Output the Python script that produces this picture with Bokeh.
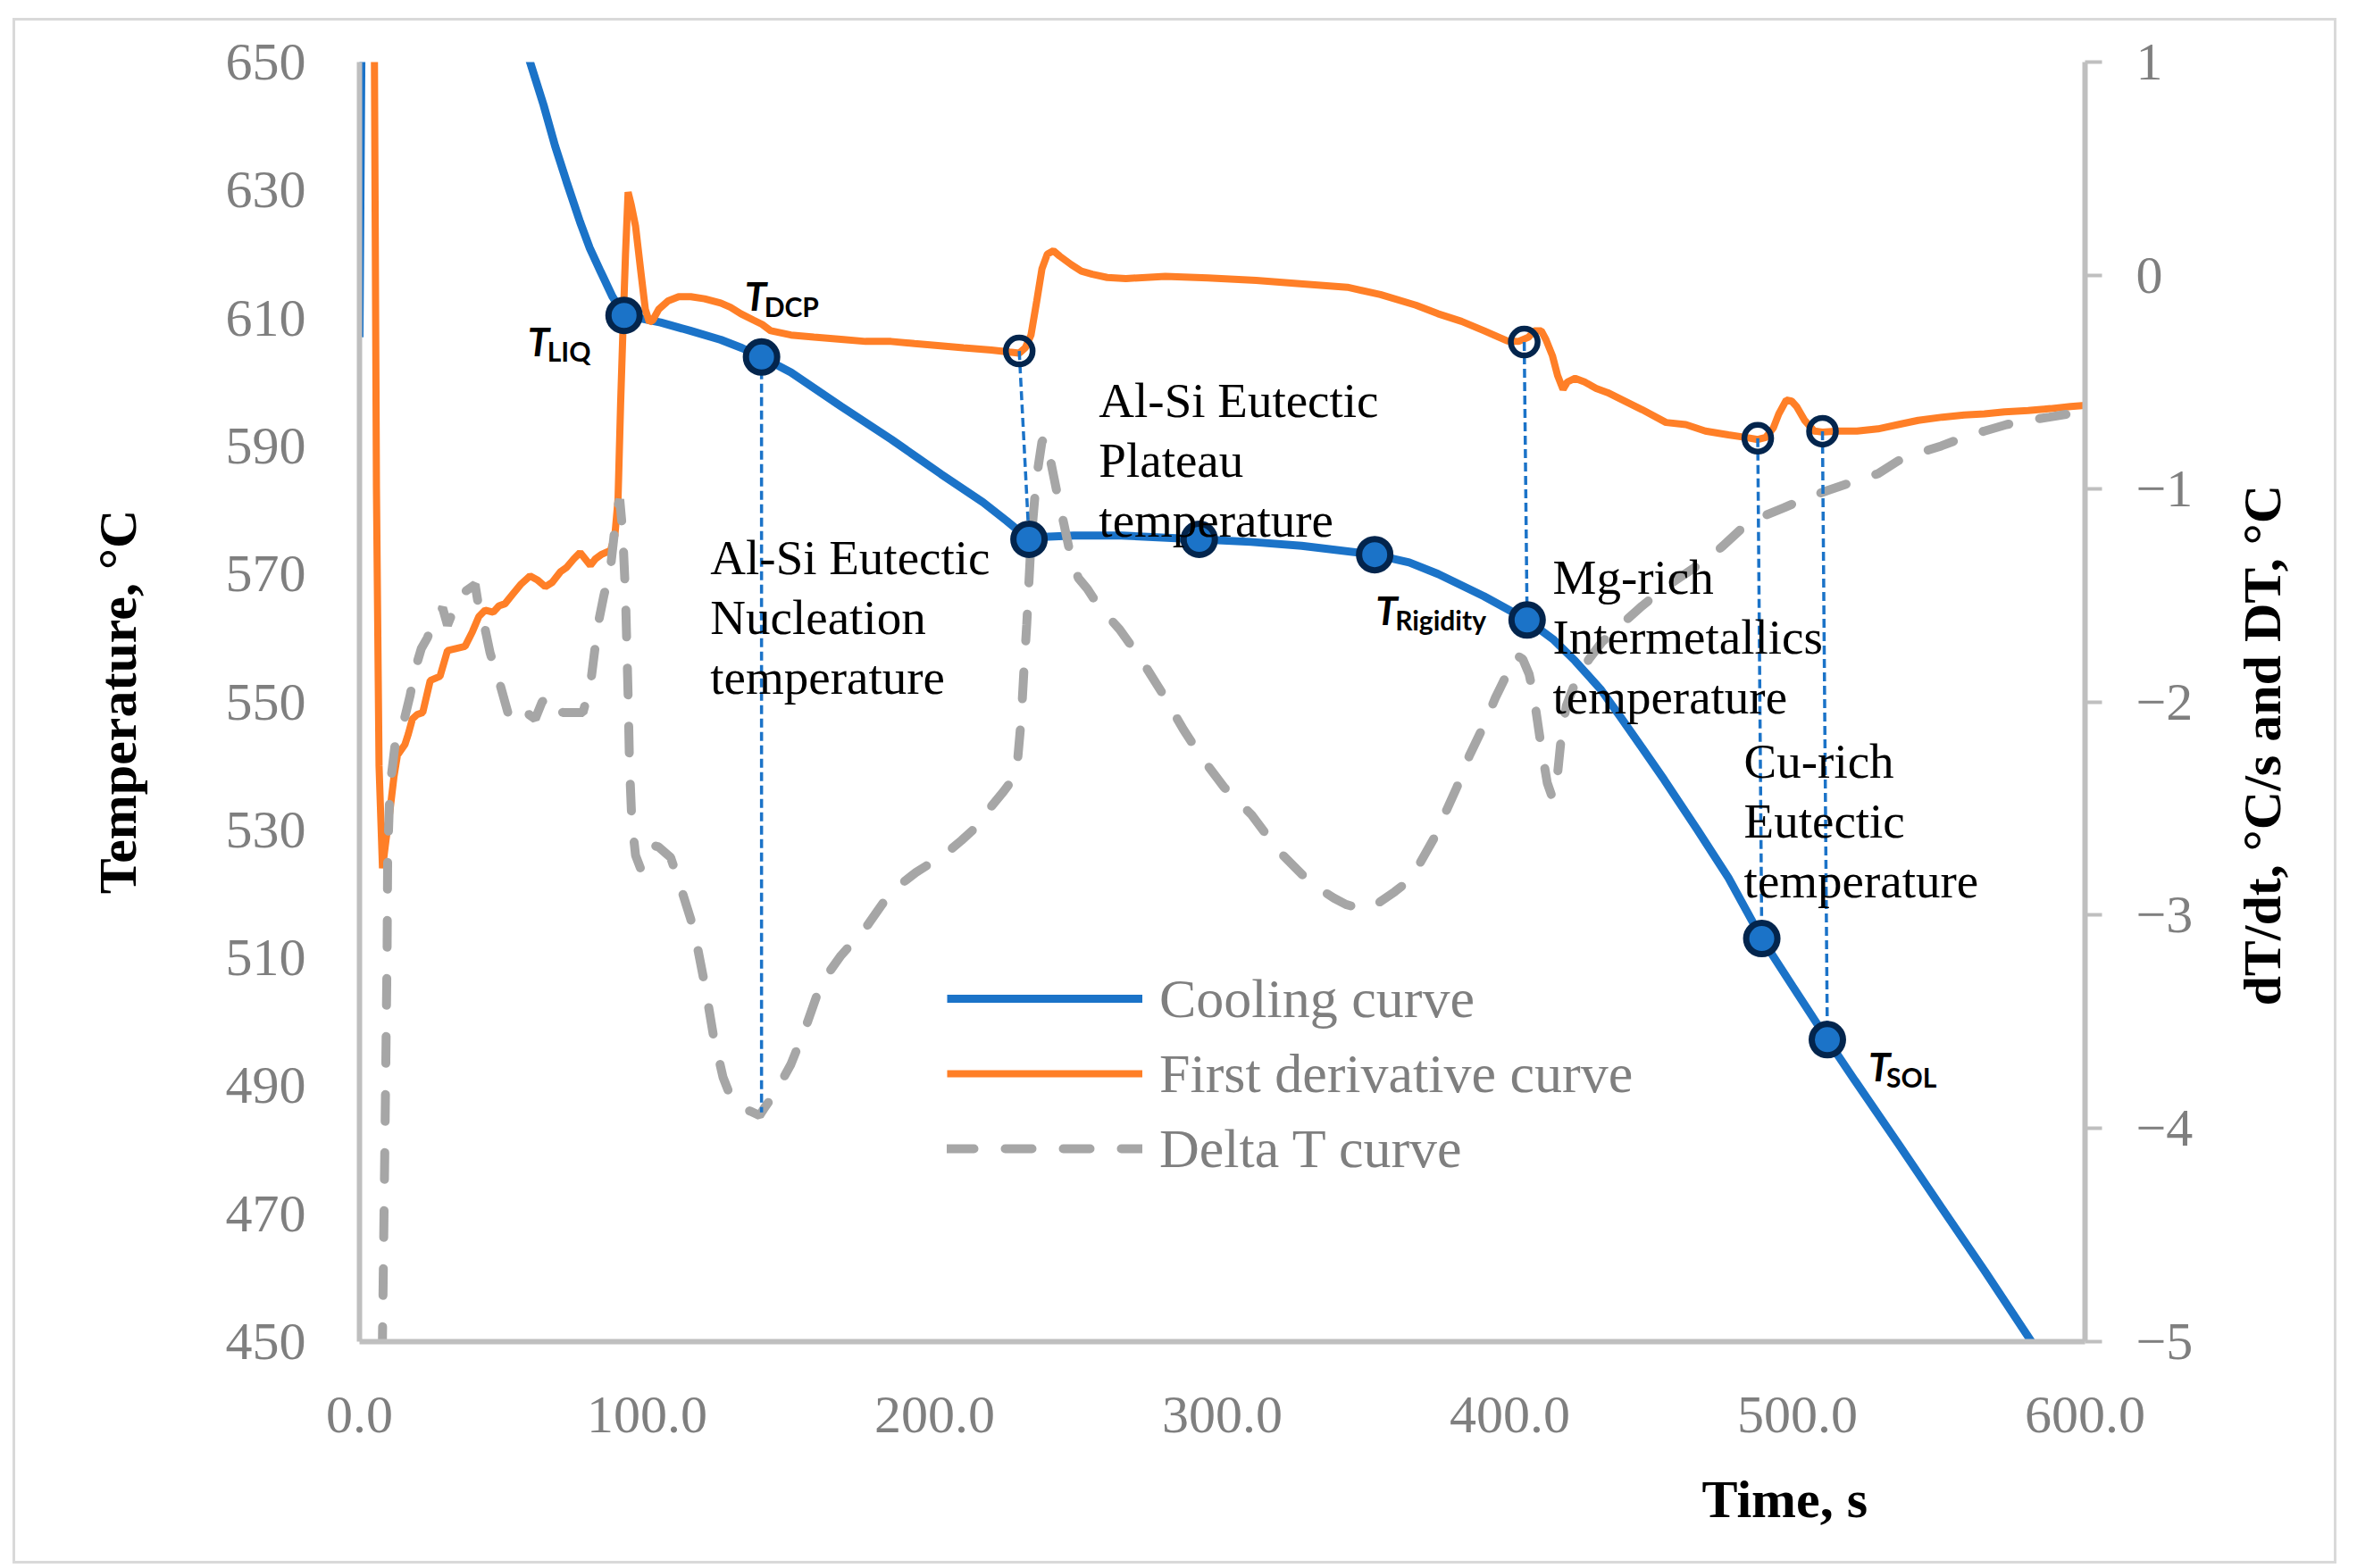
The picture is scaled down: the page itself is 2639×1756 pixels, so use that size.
import numpy as np
from bokeh.plotting import figure
from bokeh.layouts import row, column
from bokeh.models import (Range1d, LinearAxis, FixedTicker, NumeralTickFormatter,
                          ColumnDataSource, Legend, LegendItem, Title, Spacer)
from bokeh.core.properties import value
from bokeh.embed import file_html
from bokeh.resources import INLINE

# ---------------- data ----------------
cool_t = [0.0, 0.8, 40.0, 50.0, 59.3, 64.0, 68.0, 72.0, 76.7, 80.0, 83.9, 88.0, 92.0, 97.0,
          104.7, 115.0, 125.6, 133.0, 139.8, 150.0, 167.4, 185.0, 202.2, 216.8, 225.0, 232.8,
          238.0, 248.4, 265.0, 292.0, 310.0, 327.6, 353.0, 365.0, 375.0, 391.0, 406.0, 415.0,
          422.7, 431.5, 438.5, 446.0, 453.7, 465.2, 476.0, 487.6, 498.4, 510.4, 520.0, 535.4,
          550.0, 565.2, 583.0, 600.0]
cool_T = [607.0, 660.0, 684.0, 666.0, 650.0, 643.3, 636.9, 631.3, 625.0, 621.0, 617.2, 613.3,
          610.4, 610.0, 609.3, 608.0, 606.6, 605.3, 603.9, 601.5, 596.2, 591.0, 585.6, 581.2,
          578.3, 575.4, 575.8, 576.0, 576.0, 575.4, 575.0, 574.4, 573.0, 571.8, 570.0, 566.5,
          562.8, 559.8, 556.4, 552.0, 547.6, 542.8, 537.8, 530.0, 522.5, 513.0, 505.5, 497.2,
          490.8, 480.7, 471.0, 461.0, 448.9, 437.5]

deriv_t = [4.6, 5.2, 5.9, 6.8, 8.0, 9.2, 10.6, 12.0, 13.2, 15.8, 17.0, 18.4, 20.0, 22.0, 24.6,
           28.0, 30.6, 33.5, 36.7, 39.3, 41.5, 43.7, 46.5, 48.5, 50.6, 53.0, 56.0, 59.3, 62.0,
           64.6, 67.0, 69.9, 72.0, 74.5, 76.7, 78.5, 80.3, 82.0, 84.0, 87.3, 88.8, 89.9, 90.8,
           91.6, 92.5, 93.4, 94.5, 96.0, 97.8, 99.4, 100.8, 102.0, 104.0, 107.3, 111.0, 115.2,
           120.0, 125.6, 129.0, 132.6, 137.0, 140.0, 143.0, 150.0, 158.0, 167.4, 176.0, 184.8,
           193.0, 202.0, 210.0, 219.7, 226.0, 229.4, 231.5, 233.5, 235.5, 237.3, 239.2, 241.3,
           243.5, 247.5, 251.0, 254.8, 260.0, 266.5, 280.2, 295.0, 311.8, 328.0, 343.5, 355.0,
           367.3, 375.0, 383.2, 391.0, 399.0, 403.0, 406.5, 408.5, 410.9, 412.5, 414.8, 416.6,
           418.5, 420.0, 422.7, 426.0, 430.0, 434.0, 438.5, 446.0, 454.3, 461.2, 468.0, 476.0,
           482.0, 486.2, 489.0, 491.6, 493.5, 496.1, 498.0, 499.8, 502.5, 505.8, 508.7, 514.0,
           520.7, 528.0, 535.0, 542.0, 550.4, 558.0, 565.0, 572.0, 580.2, 588.0, 595.0, 600.0]
deriv_v = [3.0, 1.0, -1.0, -2.3, -2.78, -2.65, -2.51, -2.35, -2.25, -2.20, -2.15, -2.08, -2.06,
           -2.05, -1.90, -1.88, -1.76, -1.75, -1.74, -1.67, -1.60, -1.57, -1.58, -1.55, -1.54,
           -1.50, -1.45, -1.41, -1.43, -1.46, -1.44, -1.39, -1.37, -1.33, -1.30, -1.33, -1.36,
           -1.33, -1.31, -1.29, -1.22, -1.05, -0.60, -0.26, 0.10, 0.39, 0.33, 0.23, 0.02, -0.16,
           -0.22, -0.21, -0.16, -0.12, -0.10, -0.10, -0.11, -0.13, -0.15, -0.18, -0.21, -0.23,
           -0.26, -0.28, -0.29, -0.30, -0.31, -0.31, -0.32, -0.33, -0.34, -0.35, -0.36, -0.365,
           -0.34, -0.28, -0.12, 0.03, 0.10, 0.115, 0.09, 0.05, 0.02, 0.005, -0.01, -0.015,
           -0.005, -0.012, -0.024, -0.04, -0.056, -0.09, -0.14, -0.18, -0.216, -0.26, -0.307,
           -0.31, -0.29, -0.26, -0.26, -0.30, -0.377, -0.47, -0.535, -0.50, -0.483, -0.50,
           -0.53, -0.55, -0.58, -0.63, -0.69, -0.70, -0.73, -0.748, -0.76, -0.77, -0.76, -0.716,
           -0.65, -0.585, -0.59, -0.617, -0.68, -0.73, -0.735, -0.73, -0.73, -0.72, -0.70,
           -0.68, -0.665, -0.655, -0.65, -0.64, -0.634, -0.625, -0.615, -0.61]

dt_t = [7.6, 8.0, 8.85, 9.6, 9.8, 10.6, 12.3, 14.9, 17.6, 19.3, 21.5, 23.6, 26.5, 28.9, 30.6,
        33.0, 35.9, 40.2, 42.0, 43.7, 45.4, 48.9, 51.6, 54.0, 56.8, 59.0, 61.1, 63.5, 66.4,
        68.5, 70.7, 74.0, 77.7, 80.3, 82.9, 85.0, 87.3, 89.5, 90.5, 91.5, 92.5, 93.4, 93.9,
        94.7, 96.0, 97.7, 99.5, 101.2, 104.0, 108.2, 111.7, 115.2, 117.8, 120.4, 123.0, 126.4,
        129.0, 132.6, 136.0, 139.1, 141.0, 144.7, 150.0, 155.3, 160.5, 167.4, 176.0, 184.8,
        193.5, 204.0, 209.3, 215.0, 219.7, 224.0, 228.4, 230.1, 231.0, 232.0, 233.5, 235.4,
        237.3, 238.5, 240.0, 242.4, 245.0, 247.5, 250.0, 253.1, 256.0, 259.6, 264.3, 272.2,
        280.1, 286.5, 292.8, 300.6, 310.2, 319.7, 330.7, 338.8, 343.0, 348.3, 351.0, 354.6,
        360.0, 365.7, 369.0, 373.6, 381.6, 386.0, 391.0, 395.0, 399.0, 402.2, 404.5, 406.7,
        408.4, 410.9, 413.0, 414.8, 416.5, 418.0, 419.6, 423.0, 427.5, 432.0, 438.5, 446.0,
        454.3, 461.0, 468.6, 474.0, 480.4, 488.0, 495.3, 502.0, 510.3, 519.0, 528.0, 535.0,
        543.0, 550.0, 557.8, 565.0, 572.7, 580.0, 587.6, 596.4, 600.0]
dt_v = [-5.6, -4.97, -4.05, -3.17, -2.72, -2.40, -2.21, -2.12, -1.97, -1.85, -1.75, -1.70,
        -1.60, -1.56, -1.64, -1.56, -1.49, -1.45, -1.60, -1.66, -1.77, -1.92, -2.05, -2.05,
        -2.01, -2.06, -2.08, -2.00, -1.97, -2.03, -2.05, -2.05, -2.05, -1.92, -1.64, -1.50,
        -1.37, -1.10, -1.05, -1.20, -1.50, -1.97, -2.30, -2.56, -2.72, -2.78, -2.72, -2.67,
        -2.68, -2.73, -2.87, -3.02, -3.17, -3.35, -3.56, -3.76, -3.85, -3.90, -3.92, -3.94,
        -3.90, -3.83, -3.70, -3.52, -3.32, -3.19, -3.06, -2.89, -2.80, -2.71, -2.65, -2.58,
        -2.49, -2.42, -2.34, -2.08, -1.86, -1.64, -1.25, -0.95, -0.78, -0.76, -0.85, -1.01,
        -1.17, -1.33, -1.42, -1.47, -1.53, -1.59, -1.66, -1.81, -1.98, -2.13, -2.26, -2.40,
        -2.53, -2.70, -2.85, -2.92, -2.95, -2.97, -2.97, -2.94, -2.89, -2.83, -2.75, -2.64,
        -2.40, -2.25, -2.11, -1.98, -1.87, -1.78, -1.80, -1.87, -1.98, -2.21, -2.38, -2.45,
        -2.35, -2.15, -2.02, -1.90, -1.80, -1.72, -1.64, -1.55, -1.46, -1.40, -1.33, -1.27,
        -1.19, -1.13, -1.09, -1.05, -1.01, -0.97, -0.93, -0.87, -0.83, -0.80, -0.76, -0.73,
        -0.70, -0.68, -0.665, -0.645, -0.64]

# characteristic points on the cooling curve
cool_mark_t = [92.0, 139.8, 232.8, 292.0, 353.0, 406.0, 487.6, 510.4]
cool_mark_T = [610.4, 603.9, 575.4, 575.4, 573.0, 562.8, 513.0, 497.2]
# characteristic points on the first-derivative curve
der_mark_t = [229.4, 405.0, 486.2, 508.7]
der_mark_v = [-0.355, -0.313, -0.764, -0.731]
der_to_cool = [2, 5, 6, 7]          # cooling point each derivative point drops to
dcp_index = 1                        # T_DCP drops to the Delta T curve

x_ticks = [0, 100, 200, 300, 400, 500, 600]
y_ticks = [450, 470, 490, 510, 530, 550, 570, 590, 610, 630, 650]
dt_ticks = [-5, -4, -3, -2, -1, 0, 1]

sym_labels = ["LIQ", "DCP", "Rigidity", "SOL"]
sym_index = [0, 1, 4, 7]

ann_blocks = [
    (["Al-Si Eutectic", "Nucleation", "temperature"], 122.0, 572.6),
    (["Al-Si Eutectic", "Plateau", "temperature"], 257.1, 597.1),
    (["Mg-rich", "Intermetallics", "temperature"], 414.9, 569.4),
    (["Cu-rich", "Eutectic", "temperature"], 481.4, 540.7),
]

right_title = "dT/dt, \u00b0C/s and DT, \u00b0C"

# ---------------- style ----------------
BLUE = "#1b73c8"
ORANGE = "#ff7f27"
GRAY = "#a6a6a6"
NAVY = "#03254d"
AXIS = "#bfbfbf"
TICK = "#7f7f7f"
SERIF = "Liberation Serif"
SANS = "Lato"

PAD_L, PAD_T = 17, 23               # space outside the chart border
W_MAIN, W_SIDE, H = 2451, 145, 1725
FR_L, FR_R, FR_T, FR_B = 385, 2317, 46, 1480   # plot frame inside the bordered area

p = figure(width=W_MAIN, height=H, x_range=Range1d(0, 600), y_range=Range1d(450, 650),
           output_backend="svg", toolbar_location=None,
           min_border_left=FR_L, min_border_right=W_MAIN - FR_R, min_border_top=FR_T,
           min_border_bottom=H - FR_B)
p.extra_y_ranges = {"dt": Range1d(-5, 1)}
p.grid.visible = False
p.outline_line_color = None
p.background_fill_color = None
p.border_fill_color = None

xa = p.xaxis[0]
xa.ticker = FixedTicker(ticks=x_ticks)
xa.formatter = NumeralTickFormatter(format="0.0")
ya = p.yaxis[0]
ya.ticker = FixedTicker(ticks=y_ticks)
ra = LinearAxis(y_range_name="dt", ticker=FixedTicker(ticks=dt_ticks),
                major_label_overrides={t: ("\u2212" + str(-t) if t < 0 else str(t)) for t in dt_ticks})
p.add_layout(ra, "right")

for ax in (xa, ya, ra):
    ax.axis_line_color = AXIS
    ax.axis_line_width = 6
    ax.minor_tick_line_color = None
    ax.major_label_text_font = SERIF
    ax.major_label_text_font_size = "60px"
    ax.major_label_text_color = TICK
    ax.axis_label_text_font = SERIF
    ax.axis_label_text_font_style = "bold"
    ax.axis_label_text_font_size = "60px"
    ax.axis_label_text_color = "black"
for ax in (xa, ya):
    ax.major_tick_line_color = None
    ax.major_tick_out = 0
    ax.major_tick_in = 0
xa.major_label_standoff = 62
ya.major_label_standoff = 60
ra.major_tick_line_color = AXIS
ra.major_tick_line_width = 4
ra.major_tick_out = 19
ra.major_tick_in = 0
ra.major_label_standoff = 38

ya.axis_label = "Temperature, \u00b0C"
ya.axis_label_standoff = 85

p.add_layout(Title(text="Time, s", align="left", offset=1503, standoff=74,
                   text_font=SERIF, text_font_style="bold", text_font_size="60px",
                   text_color="black"), "below")

# ---------------- series ----------------
r_cool = p.line(cool_t, cool_T, line_color=BLUE, line_width=9)
r_der = p.line(deriv_t, deriv_v, y_range_name="dt", line_color=ORANGE, line_width=8)
r_dt = p.line(dt_t, dt_v, y_range_name="dt", line_color=GRAY, line_width=10,
              line_dash="30 35", line_cap="round")

# drop lines (right-axis values mapped into the left-axis scale)
yr, dr = p.y_range, p.extra_y_ranges["dt"]
def to_left(v):
    return yr.start + (v - dr.start) / (dr.end - dr.start) * (yr.end - yr.start)

x0 = list(der_mark_t)
y0 = [to_left(v) for v in der_mark_v]
x1 = [cool_mark_t[j] for j in der_to_cool]
y1 = [cool_mark_T[j] for j in der_to_cool]
x0.append(cool_mark_t[dcp_index]); y0.append(cool_mark_T[dcp_index])
x1.append(cool_mark_t[dcp_index]); y1.append(to_left(float(np.interp(cool_mark_t[dcp_index], dt_t, dt_v))))
p.segment(x0, y0, x1, y1, line_color=BLUE, line_width=3.5, line_dash="10 5")

p.scatter(der_mark_t, der_mark_v, y_range_name="dt", size=30, fill_color=None,
          line_color=NAVY, line_width=6.5)
p.scatter(cool_mark_t, cool_mark_T, size=35, fill_color=BLUE, line_color=NAVY, line_width=7)

# ---------------- symbol labels (T with subscript) ----------------
t_off = [(-108, 29, -86, 40), (-19, -69, 3, -57), (1, 62, 23, 73), (46, 30, 66, 42)]
sym_src = ColumnDataSource(dict(
    x=[cool_mark_t[i] for i in sym_index], y=[cool_mark_T[i] for i in sym_index],
    sub=sym_labels, tx=[o[0] for o in t_off], ty=[o[1] for o in t_off],
    sx=[o[2] for o in t_off], sy=[o[3] for o in t_off], T=["T"] * len(sym_labels)))
p.text(x="x", y="y", text="T", x_offset="tx", y_offset="ty", source=sym_src,
       text_font=value(SANS), text_font_style="bold italic", text_font_size="44px",
       text_color="black", text_align="left", text_baseline="alphabetic")
p.text(x="x", y="y", text="sub", x_offset="sx", y_offset="sy", source=sym_src,
       text_font=value(SANS), text_font_style="bold", text_font_size="30px",
       text_color="black", text_align="left", text_baseline="alphabetic")

# ---------------- annotation text ----------------
ax_, ay_, at_, ao_ = [], [], [], []
for lines, bx, by in ann_blocks:
    for k, s_ in enumerate(lines):
        ax_.append(bx); ay_.append(by); at_.append(s_); ao_.append(k * 67)
ann_src = ColumnDataSource(dict(x=ax_, y=ay_, text=at_, dy=ao_))
p.text(x="x", y="y", text="text", y_offset="dy", source=ann_src,
       text_font=value(SERIF), text_font_size="55px", text_color="black",
       text_align="left", text_baseline="alphabetic")

# ---------------- legend ----------------
legend = Legend(items=[LegendItem(label="Cooling curve", renderers=[r_cool]),
                       LegendItem(label="First derivative curve", renderers=[r_der]),
                       LegendItem(label="Delta T curve", renderers=[r_dt])],
                location=(658, 174), border_line_color=None, background_fill_alpha=0,
                label_text_font=SERIF, label_text_font_size="62px", label_text_color=TICK,
                glyph_width=219, glyph_height=84, label_height=84, spacing=0, padding=0,
                margin=0, label_standoff=19)
p.add_layout(legend)

# ---------------- right-hand axis title (reads bottom to top) ----------------
# side panel shares the main plot's vertical scale (frames are aligned in the row)
s = figure(width=W_SIDE, height=H, x_range=Range1d(0, 1), y_range=Range1d(450, 650),
           output_backend="svg", toolbar_location=None, min_border=0)
s.axis.visible = False
s.grid.visible = False
s.outline_line_color = None
s.background_fill_color = None
s.border_fill_color = None
s.text(x=[0.448], y=[543.2], text=[right_title], angle=np.pi / 2,
       text_font=value(SERIF), text_font_style="bold", text_font_size="60px",
       text_color="black", text_align="center", text_baseline="middle")

chart = row(p, s, spacing=0)
chart.styles = {"outline": "3px solid #d9d9d9"}
page = column(Spacer(height=PAD_T), row(Spacer(width=PAD_L), chart, spacing=0), spacing=0)

open("out.html", "w").write(file_html(page, INLINE))
